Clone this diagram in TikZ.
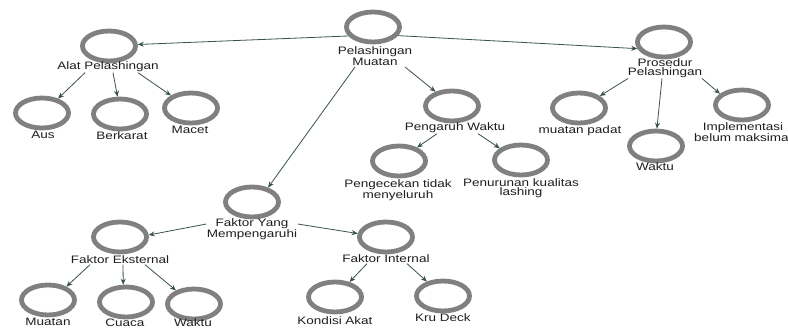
\documentclass[tikz,border=0pt]{standalone}
\usepackage{fontspec}
\newfontfamily\lblfont[FakeStretch=1.25]{Liberation Sans}
\usetikzlibrary{shapes.geometric,arrows.meta}
\definecolor{ringgray}{RGB}{128,128,128}
\definecolor{arrcol}{RGB}{58,82,76}
\definecolor{txtcol}{RGB}{30,30,30}
\tikzset{
  ring/.style={ellipse,draw=ringgray,line width=4.8pt,minimum width=53pt,minimum height=30pt,inner sep=0pt},
  lbl/.style={font=\lblfont\fontsize{10.8}{9.5}\selectfont,text=txtcol,align=center,inner sep=0.5pt},
  arr/.style={draw=arrcol,line width=0.8pt,-{Stealth[length=6pt,width=5pt]}}
}
\begin{document}
\begin{tikzpicture}[x=1pt,y=-1pt]
\fill[white] (0,0) rectangle (788,329);
\useasboundingbox (0,0) rectangle (788,329);

% circles
\node[ring] (pm)   at (373,27) {};
\node[ring] (alat) at (109,46) {};
\node[ring] (aus)  at (42,113) {};
\node[ring] (ber)  at (120,114) {};
\node[ring] (mac)  at (191,108) {};
\node[ring] (pros) at (664,42) {};
\node[ring] (mp)   at (579,108) {};
\node[ring] (wkp)  at (656,146) {};
\node[ring] (imp)  at (742,105) {};
\node[ring] (pw)   at (452,106) {};
\node[ring] (pgk)  at (399,161) {};
\node[ring] (pnr)  at (521,160) {};
\node[ring] (fym)  at (252,202) {};
\node[ring] (fe)   at (120,237) {};
\node[ring] (fi)   at (386,237) {};
\node[ring] (mu)   at (48,300) {};
\node[ring] (cu)   at (126,302) {};
\node[ring] (wkf)  at (194,304) {};
\node[ring] (ka)   at (335,297) {};
\node[ring] (kd)   at (443,296) {};

% labels
\node[lbl] (pmL)   at (375,56) {Pelashingan\\Muatan};
\node[lbl] (alatL) at (108,67) {Alat Pelashingan};
\node[lbl] (ausL)  at (43,135) {Aus};
\node[lbl] (berL)  at (122,136) {Berkarat};
\node[lbl] (macL)  at (190,130) {Macet};
\node[lbl] (prosL) at (665,68) {Prosedur\\Pelashingan};
\node[lbl] (mpL)   at (580,131) {muatan padat};
\node[lbl] (wkpL)  at (655,167) {Waktu};
\node[lbl] (impL)  at (743,132) {Implementasi\\belum maksima\phantom{l}};
\node[lbl] (pwL)   at (455,128) {Pengaruh Waktu};
\node[lbl] (pgkL)  at (398,190) {Pengecekan tidak\\menyeluruh};
\node[lbl] (pnrL)  at (521,188) {Penurunan kualitas\\lashing};
\node[lbl] (fymL)  at (252,229) {Faktor Yang\\Mempengaruhi};
\node[lbl] (feL)   at (120,260) {Faktor Eksternal};
\node[lbl] (fiL)   at (386,259) {Faktor Internal};
\node[lbl] (muL)   at (48,322) {Muatan};
\node[lbl] (cuL)   at (125,323) {Cuaca};
\node[lbl] (wkfL)  at (193,323) {Waktu};
\node[lbl] (kaL)   at (335,321) {Kondisi Akat};
\node[lbl] (kdL)   at (443,318) {Kru Deck};

% connectors
\draw[arr] (pm.200) -- (alat.3);
\draw[arr] (pm.-19) -- (pros.194);
\draw[arr] ([xshift=30pt,yshift=-1pt]pmL.south) -- (pw.139);
\draw[arr] ([xshift=-20pt,yshift=-1pt]pmL.south) -- (fym.42);

\draw[arr] ([xshift=-23pt]alatL.south) -- (aus.42);
\draw[arr] ([xshift=5pt]alatL.south) -- (ber.98);
\draw[arr] ([xshift=30pt]alatL.south) -- (mac.148);

\draw[arr] ([xshift=-37pt]prosL.south) -- (mp.30);
\draw[arr] ([xshift=-3pt]prosL.south) -- (wkp.87);
\draw[arr] ([xshift=37pt]prosL.south) -- (imp.153);

\draw[arr] ([xshift=-18pt]pwL.south) -- (pgk.37);
\draw[arr] ([xshift=23pt]pwL.south) -- (pnr.151);

\draw[arr] ([yshift=5pt]fymL.west) -- (fe.4);
\draw[arr] ([yshift=5pt]fymL.east) -- (fi.173);

\draw[arr] ([xshift=-30pt]feL.south) -- (mu.36);
\draw[arr] ([xshift=3pt]feL.south) -- (cu.99);
\draw[arr] ([xshift=25pt]feL.south) -- (wkf.143);

\draw[arr] ([xshift=-19pt]fiL.south) -- (ka.46);
\draw[arr] ([xshift=21pt]fiL.south) -- (kd.138);
\end{tikzpicture}
\end{document}
